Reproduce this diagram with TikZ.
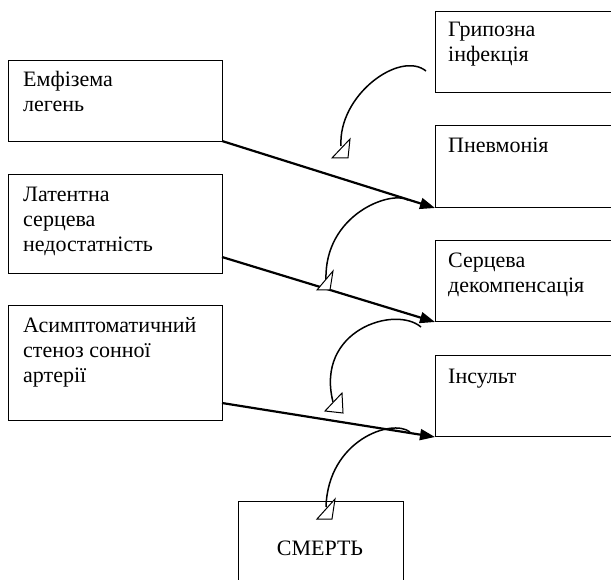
\documentclass[tikz,border=0pt]{standalone}
\usepackage{fontspec}
\setmainfont{Liberation Serif}
\usetikzlibrary{arrows.meta,calc}
\newcommand{\mylines}[1]{\begin{tabular}[t]{@{}l@{}}#1\end{tabular}}
\begin{document}
\begin{tikzpicture}[x=1pt,y=-1pt,
  box/.style={draw,line width=1pt,rectangle,anchor=north west,inner sep=0pt},
  txt/.style={anchor=base west,inner sep=0pt,font=\fontsize{22}{25}\selectfont},
  mainarrow/.style={line width=2.2pt,-{Triangle[length=15pt,width=11pt]}},
  curvy/.style={line width=1.5pt},
  headtri/.style={draw,line width=1pt,fill=white,line join=miter}]
\useasboundingbox (0,0) rectangle (611,580);
\clip (0,0) rectangle (611,580);
% left column
\node[box,minimum width=214pt,minimum height=81pt] (emf) at (8,60) {};
\node[box,minimum width=214pt,minimum height=99pt] (lat) at (8,174) {};
\node[box,minimum width=214pt,minimum height=115pt] (asy) at (8,305) {};
% right column
\node[box,minimum width=220pt,minimum height=81pt] (gri) at (435,11) {};
\node[box,minimum width=220pt,minimum height=82pt] (pne) at (435,125) {};
\node[box,minimum width=220pt,minimum height=81pt] (ser) at (435,240) {};
\node[box,minimum width=220pt,minimum height=81pt] (ins) at (435,355) {};
\node[box,minimum width=165pt,minimum height=100pt] (dea) at (238,501) {};
% texts
\node[txt] (temf) at (23,87) {\mylines{Емфізема\\легень}};
\node[txt] (tlat) at (23,202) {\mylines{Латентна\\серцева\\недостатність}};
\node[txt] (tasy) at (23,333) {\mylines{Асимптоматичний\\стеноз сонної\\артерії}};
\node[txt] (tgri) at (448,37) {\mylines{Грипозна\\інфекція}};
\node[txt] (tpne) at (448,153) {Пневмонія};
\node[txt] (tser) at (448,268) {\mylines{Серцева\\декомпенсація}};
\node[txt] (tins) at (448,383) {Інсульт};
\node[txt,anchor=base] (tdea) at (320,555) {СМЕРТЬ};
% straight arrows
\coordinate (a1) at (222,141);
\coordinate (a2) at (222,257);
\coordinate (a3) at (222,403);
\draw[mainarrow] (a1) -- (pne.south west);
\draw[mainarrow] (a2) -- (ser.south west);
\draw[mainarrow] (a3) -- (ins.south west);
% curved arrows
\coordinate (c1s) at (426,71);  \coordinate (c1e) at (341,146);
\coordinate (c2s) at (408,200); \coordinate (c2e) at (326,280);
\coordinate (c3s) at (421,327); \coordinate (c3e) at (333,402);
\coordinate (c4s) at (410,432); \coordinate (c4e) at (326,507);
\draw[curvy] (c1s) .. controls (400,50) and (338,95) .. (c1e);
\draw[curvy] (c2s) .. controls (390,190) and (324,215) .. (c2e);
\draw[curvy] (c3s) .. controls (395,305) and (315,330) .. (c3e);
\draw[curvy] (c4s) .. controls (392,418) and (328,440) .. (c4e);
% open arrow heads
\path[headtri] (350,139) -- (332,158) -- (348,158) -- cycle;
\path[headtri] (333,271) -- (317,290) -- (330,290) -- cycle;
\path[headtri] (342,393) -- (325,411) -- (343,413) -- cycle;
\path[headtri] (335,499) -- (317,519) -- (332,519) -- cycle;
\end{tikzpicture}
\end{document}
